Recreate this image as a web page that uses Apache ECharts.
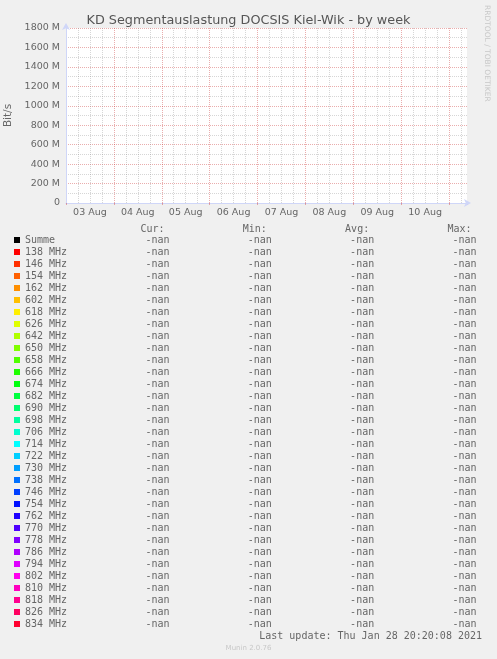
<!DOCTYPE html>
<html>
<head>
<meta charset="utf-8">
<script src="https://cdn.jsdelivr.net/npm/echarts@6/dist/echarts.min.js"></script>
<style>
html,body{margin:0;padding:0;background:#f0f0f0;}
#chart{width:497px;height:659px;}
</style>
</head>
<body>
<div id="chart"></div>
<script>
// ---- data ----
const titleText = 'KD Segmentauslastung DOCSIS Kiel-Wik - by week';
const seriesNames = ['Summe','138 MHz','146 MHz','154 MHz','162 MHz','602 MHz','618 MHz','626 MHz','642 MHz','650 MHz','658 MHz','666 MHz','674 MHz','682 MHz','690 MHz','698 MHz','706 MHz','714 MHz','722 MHz','730 MHz','738 MHz','746 MHz','754 MHz','762 MHz','770 MHz','778 MHz','786 MHz','794 MHz','802 MHz','810 MHz','818 MHz','826 MHz','834 MHz'];
const seriesColors = ['#000000','#ff0000','#ff3000','#ff6000','#ff8f00','#ffbf00','#ffef00','#dfff00','#afff00','#80ff00','#50ff00','#20ff00','#00ff10','#00ff40','#00ff70','#00ff9f','#00ffcf','#00ffff','#00cfff','#009fff','#0070ff','#0040ff','#0010ff','#2000ff','#5000ff','#8000ff','#af00ff','#df00ff','#ff00ef','#ff00bf','#ff008f','#ff0060','#ff0030'];
// no samples recorded in the period (all values are NaN)
const seriesValues = [];
const curValues = seriesNames.map(() => '-nan');
const minValues = seriesNames.map(() => '-nan');
const avgValues = seriesNames.map(() => '-nan');
const maxValues = seriesNames.map(() => '-nan');
const dayLabels = ['03 Aug','04 Aug','05 Aug','06 Aug','07 Aug','08 Aug','09 Aug','10 Aug'];
const yTickValues = [0,200,400,600,800,1000,1200,1400,1600,1800];
const yTickLabels = ['0','200 M','400 M','600 M','800 M','1000 M','1200 M','1400 M','1600 M','1800 M'];
const lastUpdate = 'Last update: Thu Jan 28 20:20:08 2021';

// ---- chart ----
const FONT = 'DejaVu Sans';
const MONO = 'DejaVu Sans Mono';
const TXT = '#666666';
const RED = 'rgba(200,40,40,0.38)';
const GRAY = 'rgba(128,128,128,0.32)';
const NONE = 'rgba(0,0,0,0)';

const chart = echarts.init(document.getElementById('chart'), null, {renderer: 'canvas'});

const series = seriesNames.map((n, i) => ({
  name: n,
  type: 'line',
  data: seriesValues,
  color: seriesColors[i],
  showSymbol: false,
  xAxisIndex: 0,
  yAxisIndex: 0
}));

const nameIdx = {};
seriesNames.forEach((n, i) => nameIdx[n] = i);

chart.setOption({
  backgroundColor: '#f0f0f0',
  animation: false,
  title: {
    text: titleText,
    left: 'center',
    top: 9,
    textStyle: {fontFamily: FONT, fontSize: 12.8, fontWeight: 'normal', color: '#555'}
  },
  grid: {
    left: 66, top: 28, width: 401, height: 175,
    containLabel: false, outerBoundsMode: 'none',
    show: true, backgroundColor: '#ffffff', borderWidth: 0
  },
  xAxis: [{
    type: 'value', min: 0, max: 201, interval: 6,
    axisLine: {show: false},
    axisTick: {show: false},
    splitLine: {show: true, showMaxLine: false, lineStyle: {color: [NONE, GRAY, GRAY, GRAY], type: [1, 1], width: 1}},
    axisLabel: {
      margin: 5, fontFamily: FONT, fontSize: 9.5, color: TXT,
      formatter: v => {
        const k = (v - 12) / 24;
        return (Number.isInteger(k) && dayLabels[k]) ? dayLabels[k] : '';
      }
    }
  }, {
    type: 'value', min: 0, max: 201, interval: 24, position: 'bottom',
    axisLine: {show: true, lineStyle: {color: '#cfd6f8', width: 1}, symbol: ['none', 'arrow'], symbolSize: [6, 7], symbolOffset: [0, 4]},
    axisTick: {show: true, length: 2, lineStyle: {color: RED}},
    axisLabel: {show: false},
    splitLine: {show: true, showMaxLine: false, lineStyle: {color: RED, type: [1, 1], width: 1}}
  }],
  yAxis: [{
    type: 'value', min: 0, max: 1800, interval: 100,
    name: 'Bit/s', nameLocation: 'middle', nameGap: 51,
    nameTextStyle: {fontFamily: FONT, fontSize: 10.5, color: TXT},
    axisLine: {show: false},
    axisTick: {show: false},
    splitLine: {show: true, lineStyle: {color: [NONE, GRAY], type: [1, 1], width: 1}},
    axisLabel: {
      margin: 6, fontFamily: FONT, fontSize: 9.5, color: TXT,
      formatter: v => {
        const k = yTickValues.indexOf(v);
        return k >= 0 ? yTickLabels[k] : '';
      }
    }
  }, {
    type: 'value', min: 0, max: 1800, interval: 200, position: 'left',
    axisLine: {show: true, lineStyle: {color: '#cfd6f8', width: 1}, symbol: ['none', 'arrow'], symbolSize: [6, 7], symbolOffset: [0, 5]},
    axisTick: {show: false},
    axisLabel: {show: false},
    splitLine: {show: true, lineStyle: {color: RED, type: [1, 1], width: 1}}
  }],
  legend: {
    orient: 'vertical',
    left: 14, top: 234, height: 420,
    padding: 0, itemGap: 0,
    itemWidth: 6, itemHeight: 6,
    icon: 'rect',
    selectedMode: false,
    data: seriesNames,
    textStyle: {fontFamily: MONO, fontSize: 10, color: TXT, lineHeight: 12},
    formatter: n => {
      const i = nameIdx[n];
      return n.padEnd(20) + curValues[i].padEnd(17) + minValues[i].padEnd(17) + avgValues[i].padEnd(17) + maxValues[i];
    }
  },
  graphic: [
    {
      type: 'text', left: 26, top: 224, silent: true,
      style: {text: ' '.repeat(19) + 'Cur:' + ' '.repeat(13) + 'Min:' + ' '.repeat(13) + 'Avg:' + ' '.repeat(13) + 'Max:',
        font: '10px "DejaVu Sans Mono"', fill: TXT}
    },
    {
      type: 'text', right: 15, top: 631, silent: true,
      style: {text: lastUpdate, font: '10px "DejaVu Sans Mono"', fill: TXT}
    },
    {
      type: 'text', left: 'center', top: 645, silent: true,
      style: {text: 'Munin 2.0.76', font: '7px "DejaVu Sans"', fill: '#c8c8c8'}
    },
    {
      type: 'text', x: 487, y: 5, rotation: -Math.PI / 2, silent: true,
      style: {text: 'RRDTOOL / TOBI OETIKER', font: '7.5px "DejaVu Sans"', fill: '#c8c8c8', align: 'left', verticalAlign: 'middle'}
    }
  ],
  series: series
});
</script>
</body>
</html>
